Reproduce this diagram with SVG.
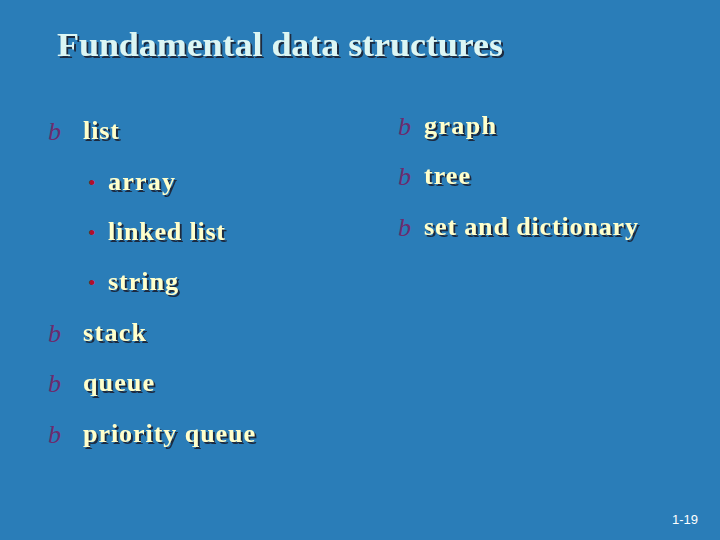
<svg xmlns="http://www.w3.org/2000/svg" width="720" height="540" viewBox="0 0 720 540">
<defs>
<filter id="sh" x="-5%" y="-20%" width="110%" height="140%"><feDropShadow dx="2" dy="2" stdDeviation="0.3" flood-color="#1a2a40"/></filter>
</defs>
<style>
.t{font-family:"Liberation Serif",serif;font-weight:bold;font-size:26px;fill:#ffffcc;filter:url(#sh)}
.b{font-family:"Liberation Serif",serif;font-style:italic;font-size:26px;fill:#6b2c6e}
.d{font-family:"Liberation Serif",serif;font-size:22px;fill:#b0102a}
</style>
<rect width="720" height="540" fill="#2a7db8"/>
<text x="57" y="56" font-family="Liberation Serif,serif" font-weight="bold" font-size="33" fill="#dcf6f4" filter="url(#sh)" textLength="446" lengthAdjust="spacingAndGlyphs">Fundamental data structures</text>
<g>
<text class="b" x="48" y="140">b</text><text class="t" x="83" y="139" textLength="36">list</text>
<text class="d" x="88" y="190">•</text><text class="t" x="108" y="190" textLength="67">array</text>
<text class="d" x="88" y="240">•</text><text class="t" x="108" y="240" textLength="117">linked list</text>
<text class="d" x="88" y="290">•</text><text class="t" x="108" y="290" textLength="70">string</text>
<text class="b" x="48" y="342">b</text><text class="t" x="83" y="341" textLength="63">stack</text>
<text class="b" x="48" y="392">b</text><text class="t" x="83" y="391" textLength="71">queue</text>
<text class="b" x="48" y="443">b</text><text class="t" x="83" y="442" textLength="172">priority queue</text>
<text class="b" x="398" y="135">b</text><text class="t" x="424" y="134" textLength="72">graph</text>
<text class="b" x="398" y="185">b</text><text class="t" x="424" y="184" textLength="46">tree</text>
<text class="b" x="398" y="236">b</text><text class="t" x="424" y="235" textLength="214">set and dictionary</text>
</g>
<text x="672" y="524" font-family="Liberation Sans,sans-serif" font-size="13" fill="#ffffff">1-19</text>
</svg>
